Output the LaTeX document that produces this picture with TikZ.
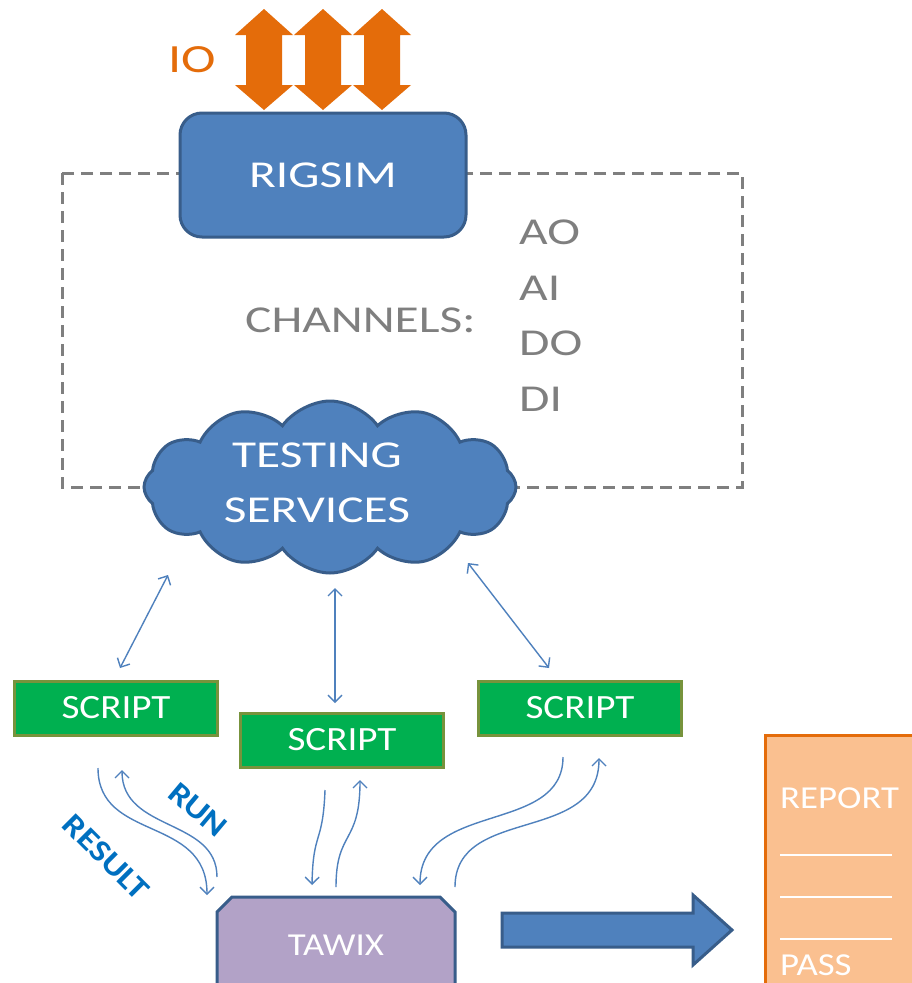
\documentclass[tikz,border=0pt]{standalone}
\usepackage{fontspec}
\setmainfont{Carlito}
\newfontfamily\widefont{Carlito}[FakeStretch=1.3]
\newfontfamily\semiwidefont{Carlito}[FakeStretch=1.15]
\usetikzlibrary{arrows.meta,shapes.symbols}

\definecolor{accblue}{HTML}{4F81BD}
\definecolor{darkblue}{HTML}{385D8A}
\definecolor{ioorange}{HTML}{E46C0A}
\definecolor{scriptgreen}{HTML}{00B050}
\definecolor{olivebd}{HTML}{77933C}
\definecolor{tawixpurple}{HTML}{B2A2C7}
\definecolor{reportfill}{HTML}{FAC090}
\definecolor{labelblue}{HTML}{0070C0}
\definecolor{textgray}{HTML}{7F7F7F}

\tikzset{
  vtip/.tip={Straight Barb[length=7pt,width=14pt,line width=1.4pt]},
  bigtext/.style={font=\widefont\fontsize{38}{42}\selectfont, text=white},
  graytext/.style={font=\widefont\fontsize{38}{42}\selectfont, text=textgray, inner sep=0pt},
  scriptbox/.style={draw=olivebd, fill=scriptgreen, line width=3pt, minimum width=203pt,
    minimum height=54pt, text=white, font=\semiwidefont\fontsize{34}{38}\selectfont},
  sheettext/.style={text=white, anchor=west, inner sep=0pt, font=\semiwidefont\fontsize{32}{36}\selectfont},
  link/.style={draw=accblue, line width=1.4pt},
  curlabel/.style={text=labelblue, inner sep=0pt, font=\semiwidefont\bfseries\fontsize{31}{33}\selectfont},
}

\begin{document}
\begin{tikzpicture}[x=1pt,y=-1pt]
\clip (0,0) rectangle (912,983);
\fill[white] (0,0) rectangle (912,983);

% dashed channel frame
\draw[textgray, line width=3pt, dash pattern=on 12pt off 7pt] (62,173) rectangle (742,487);

% IO double arrows
\foreach \cx in {264,323,382}{
  \fill[ioorange] (\cx,9) -- (\cx+29,35) -- (\cx+18,35) -- (\cx+18,85) -- (\cx+29,85)
    -- (\cx,110) -- (\cx-29,85) -- (\cx-18,85) -- (\cx-18,35) -- (\cx-29,35) -- cycle;
}
\node[text=ioorange, font=\widefont\fontsize{40}{44}\selectfont] (io) at (192,60) {IO};

% RIGSIM
\node[draw=darkblue, fill=accblue, line width=3pt, rounded corners=22pt,
  minimum width=286pt, minimum height=124pt, bigtext] (rigsim) at (323,175) {RIGSIM};

% channel list
\node[graytext, anchor=west] (chan) at (245,320) {CHANNELS:};
\node[graytext, anchor=west] (ao) at (519,232) {AO};
\node[graytext, anchor=west] (ai) at (519,288) {AI};
\node[graytext, anchor=west] (do) at (519,343) {DO};
\node[graytext, anchor=west] (di) at (519,399) {DI};

% testing services cloud
\node[cloud, cloud puffs=12, cloud puff arc=110, aspect=2.1, draw=darkblue, fill=accblue,
  line width=3pt, minimum width=372pt, minimum height=172pt, inner sep=0pt] (cloud) at (330,487) {};
\node[bigtext, align=center, font=\widefont\fontsize{38}{55}\selectfont] (cloudtxt) at (317,483) {TESTING\\SERVICES};

% scripts
\node[scriptbox] (s1) at (116,708) {SCRIPT};
\node[scriptbox] (s2) at (342,740) {SCRIPT};
\node[scriptbox] (s3) at (580,708) {SCRIPT};

% links between cloud and scripts
\coordinate (c1) at (168,575); \coordinate (e1) at (120,668);
\coordinate (c2) at (335,588); \coordinate (e2) at (335,703);
\coordinate (c3) at (468,563); \coordinate (e3) at (549,668);
\draw[link, {vtip}-{vtip}] (c1) -- (e1);
\draw[link, {vtip}-{vtip}] (c2) -- (e2);
\draw[link, {vtip}-{vtip}] (c3) -- (e3);

% TAWIX
\path[draw=darkblue, fill=tawixpurple, line width=3pt]
  (217,1000) -- (217,912) -- (232,897) -- (440,897) -- (455,912) -- (455,1000) -- cycle;
\node[text=white, font=\semiwidefont\fontsize{32}{36}\selectfont] (tawix) at (336,945) {TAWIX};

% run / result curves
\coordinate (r1a) at (98,768);  \coordinate (r1b) at (207,895);
\coordinate (u1a) at (217,877); \coordinate (u1b) at (122,770);
\draw[link, -{vtip}] (r1a) .. controls (98,842) and (207,815) .. (r1b);
\draw[link, -{vtip}] (u1a) .. controls (217,818) and (122,832) .. (u1b);

\coordinate (r2a) at (325,790); \coordinate (r2b) at (312,885);
\coordinate (u2a) at (336,887); \coordinate (u2b) at (360,780);
\draw[link, -{vtip}] (r2a) .. controls (323,845) and (313,830) .. (r2b);
\draw[link, -{vtip}] (u2a) .. controls (336,830) and (360,845) .. (u2b);

\coordinate (r3a) at (563,757); \coordinate (r3b) at (420,885);
\coordinate (u3a) at (455,887); \coordinate (u3b) at (599,758);
\draw[link, -{vtip}] (r3a) .. controls (563,835) and (420,800) .. (r3b);
\draw[link, -{vtip}] (u3a) .. controls (455,805) and (599,845) .. (u3b);

\node[curlabel, rotate=-40] (run) at (198,810) {RUN};
\node[curlabel, rotate=-45] (result) at (106,857) {RESULT};

% output arrow to report
\path[draw=darkblue, fill=accblue, line width=3pt]
  (502,913) -- (693,913) -- (693,895) -- (732,930) -- (693,965) -- (693,947) -- (502,947) -- cycle;

% report sheet
\path[draw=ioorange, fill=reportfill, line width=3pt] (765,735) rectangle (930,1000);
\node[sheettext] (report) at (780,798) {REPORT};
\foreach \ly in {855,897,939}{
  \draw[white, line width=1.5pt] (780,\ly) -- (892,\ly);
}
\node[sheettext] (pass) at (780,965) {PASS};
\end{tikzpicture}
\end{document}
